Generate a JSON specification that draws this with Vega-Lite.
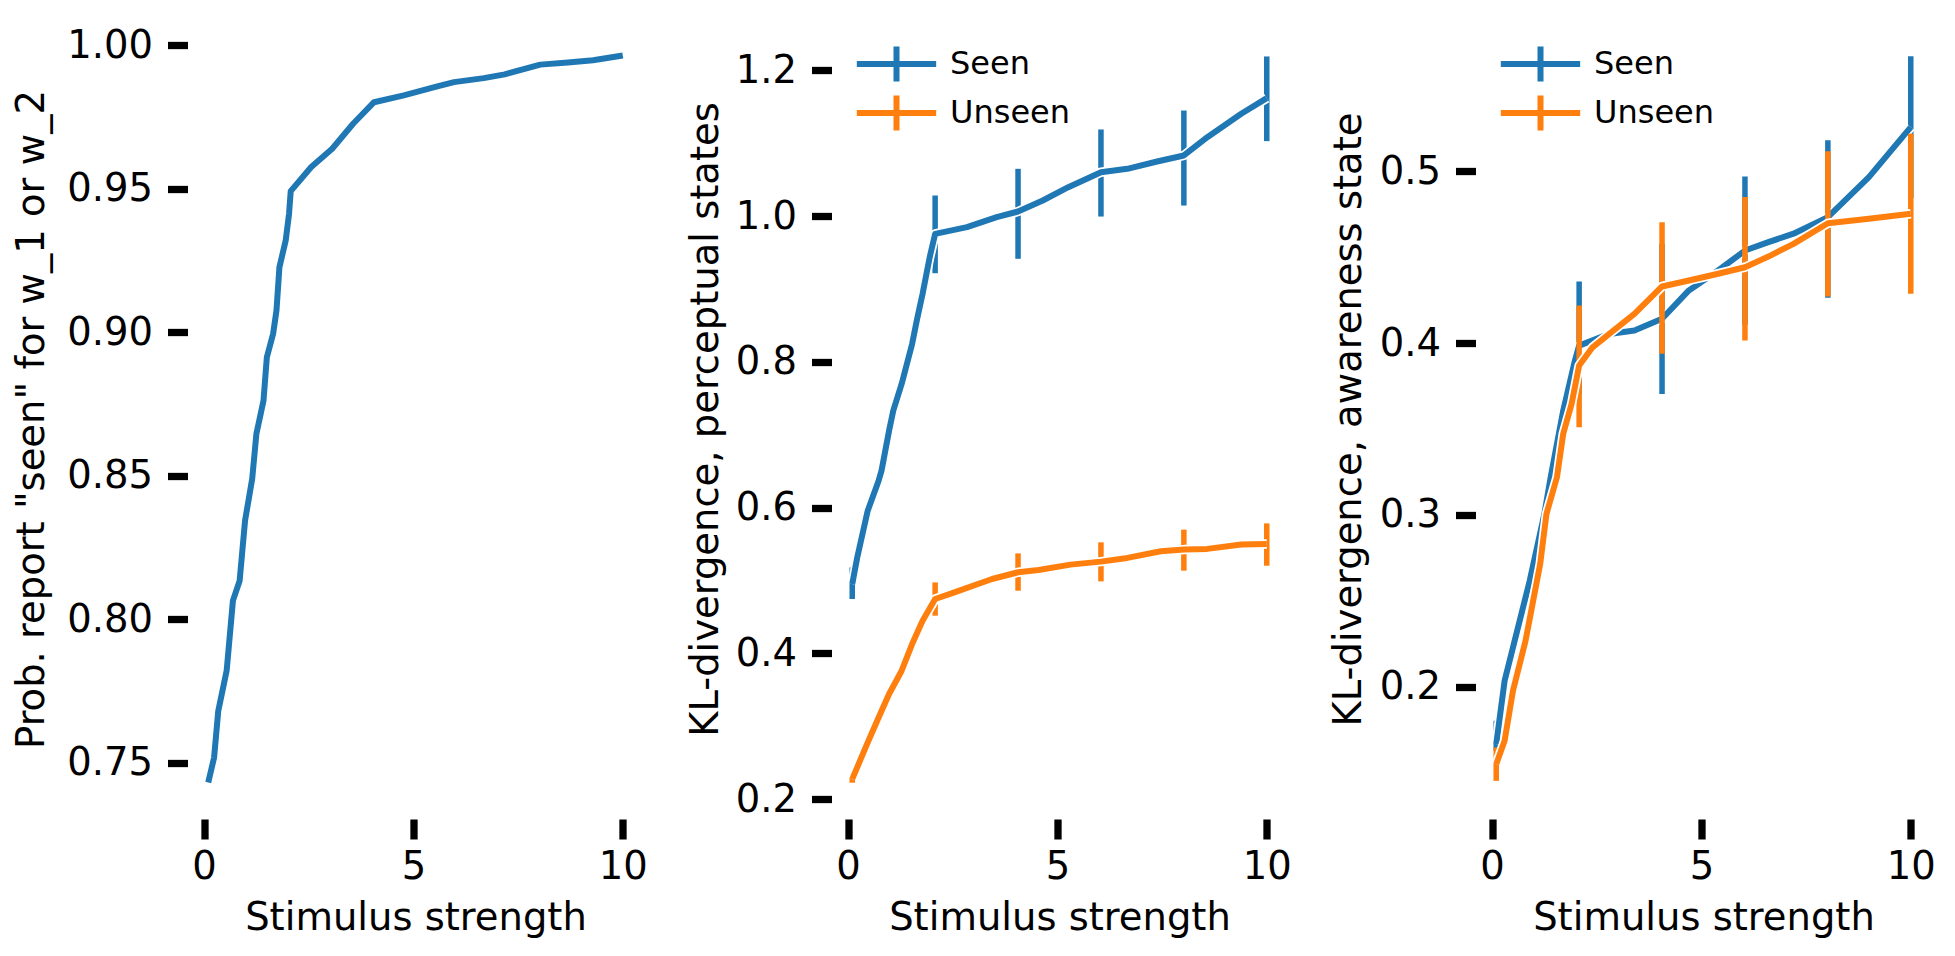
{
  "$schema": "https://vega.github.io/schema/vega-lite/v6.json",
  "background": "white",
  "padding": {"left": 12.5, "top": 19, "right": 10, "bottom": 10},
  "config": {
    "view": {"stroke": null},
    "font": "DejaVu Sans",
    "axis": {
      "domain": false,
      "grid": false,
      "tickColor": "black",
      "tickWidth": 7.3,
      "tickSize": 20,
      "labelFont": "DejaVu Sans",
      "labelFontSize": 38.5,
      "labelColor": "black",
      "labelFlush": false,
      "labelOverlap": false,
      "titleFont": "DejaVu Sans",
      "titleFontSize": 38.5,
      "titleFontWeight": "normal",
      "titleColor": "black"
    },
    "axisX": {"labelPadding": 9, "titlePadding": 14},
    "axisY": {"labelPadding": 15},
    "legend": {
      "orient": "none",
      "legendX": 46,
      "legendY": 26,
      "padding": 0,
      "symbolType": "M-2.48,0H2.48M0,-1.1V1.1",
      "symbolSize": 1024,
      "symbolStrokeWidth": 6,
      "symbolFillColor": "transparent",
      "labelFont": "DejaVu Sans",
      "labelFontSize": 32,
      "labelColor": "black",
      "labelOffset": 34.5,
      "rowPadding": -13
    }
  },
  "datasets": {
    "report": [
      {"x": 0.1, "y": 0.7431}, {"x": 0.24, "y": 0.7518}, {"x": 0.34, "y": 0.7681},
      {"x": 0.54, "y": 0.7821}, {"x": 0.69, "y": 0.8065}, {"x": 0.85, "y": 0.8134},
      {"x": 0.98, "y": 0.8344}, {"x": 1.15, "y": 0.849}, {"x": 1.25, "y": 0.8646},
      {"x": 1.42, "y": 0.8762}, {"x": 1.5, "y": 0.8913}, {"x": 1.65, "y": 0.8995},
      {"x": 1.73, "y": 0.9076}, {"x": 1.8, "y": 0.9227}, {"x": 1.95, "y": 0.932},
      {"x": 2.03, "y": 0.9413}, {"x": 2.07, "y": 0.9492}, {"x": 2.56, "y": 0.9576},
      {"x": 3.06, "y": 0.964}, {"x": 3.56, "y": 0.9727}, {"x": 4.06, "y": 0.9802},
      {"x": 4.77, "y": 0.9826}, {"x": 5.57, "y": 0.9857}, {"x": 5.97, "y": 0.9872},
      {"x": 6.68, "y": 0.9886}, {"x": 7.18, "y": 0.9899}, {"x": 8.03, "y": 0.9933},
      {"x": 8.69, "y": 0.994}, {"x": 9.29, "y": 0.9948}, {"x": 10.0, "y": 0.9965}
    ],
    "perceptual": [
      {"series": "Seen", "x": 0.1, "y": 0.495}, {"series": "Seen", "x": 0.22, "y": 0.5318},
      {"series": "Seen", "x": 0.47, "y": 0.5958}, {"series": "Seen", "x": 0.73, "y": 0.637},
      {"series": "Seen", "x": 0.8, "y": 0.6508}, {"series": "Seen", "x": 0.98, "y": 0.7057},
      {"series": "Seen", "x": 1.08, "y": 0.7332}, {"series": "Seen", "x": 1.28, "y": 0.7698},
      {"series": "Seen", "x": 1.53, "y": 0.8247}, {"series": "Seen", "x": 1.65, "y": 0.8591},
      {"series": "Seen", "x": 1.78, "y": 0.8934}, {"series": "Seen", "x": 1.95, "y": 0.9436},
      {"series": "Seen", "x": 2.08, "y": 0.9757}, {"series": "Seen", "x": 2.84, "y": 0.9849},
      {"series": "Seen", "x": 3.55, "y": 0.9986}, {"series": "Seen", "x": 4.06, "y": 1.0064},
      {"series": "Seen", "x": 4.65, "y": 1.0215}, {"series": "Seen", "x": 5.26, "y": 1.0398},
      {"series": "Seen", "x": 6.04, "y": 1.0604}, {"series": "Seen", "x": 6.67, "y": 1.065},
      {"series": "Seen", "x": 7.38, "y": 1.075}, {"series": "Seen", "x": 8.02, "y": 1.0833},
      {"series": "Seen", "x": 8.58, "y": 1.1084}, {"series": "Seen", "x": 9.39, "y": 1.1405},
      {"series": "Seen", "x": 10.0, "y": 1.162},
      {"series": "Unseen", "x": 0.1, "y": 0.2275}, {"series": "Unseen", "x": 0.42, "y": 0.2709},
      {"series": "Unseen", "x": 0.73, "y": 0.312}, {"series": "Unseen", "x": 0.98, "y": 0.3442},
      {"series": "Unseen", "x": 1.28, "y": 0.3762}, {"series": "Unseen", "x": 1.53, "y": 0.4128},
      {"series": "Unseen", "x": 1.78, "y": 0.4448}, {"series": "Unseen", "x": 2.08, "y": 0.4746},
      {"series": "Unseen", "x": 2.54, "y": 0.4837}, {"series": "Unseen", "x": 3.44, "y": 0.5021},
      {"series": "Unseen", "x": 4.06, "y": 0.5113}, {"series": "Unseen", "x": 4.55, "y": 0.5145},
      {"series": "Unseen", "x": 5.31, "y": 0.5218}, {"series": "Unseen", "x": 6.04, "y": 0.5259},
      {"series": "Unseen", "x": 6.67, "y": 0.531}, {"series": "Unseen", "x": 7.47, "y": 0.5401},
      {"series": "Unseen", "x": 8.02, "y": 0.5424}, {"series": "Unseen", "x": 8.58, "y": 0.5434},
      {"series": "Unseen", "x": 9.39, "y": 0.5493}, {"series": "Unseen", "x": 10.0, "y": 0.5502}
    ],
    "perceptualErr": [
      {"series": "Seen", "x": 0.1, "lo": 0.4746, "hi": 0.518},
      {"series": "Seen", "x": 2.08, "lo": 0.9217, "hi": 1.0284},
      {"series": "Seen", "x": 4.06, "lo": 0.9415, "hi": 1.065},
      {"series": "Seen", "x": 6.04, "lo": 0.9995, "hi": 1.119},
      {"series": "Seen", "x": 8.02, "lo": 1.0146, "hi": 1.145},
      {"series": "Seen", "x": 10.0, "lo": 1.103, "hi": 1.2192},
      {"series": "Unseen", "x": 0.1, "lo": 0.2225, "hi": 0.2325},
      {"series": "Unseen", "x": 2.08, "lo": 0.4517, "hi": 0.4974},
      {"series": "Unseen", "x": 4.06, "lo": 0.486, "hi": 0.5372},
      {"series": "Unseen", "x": 6.04, "lo": 0.4988, "hi": 0.5524},
      {"series": "Unseen", "x": 8.02, "lo": 0.5135, "hi": 0.5698},
      {"series": "Unseen", "x": 10.0, "lo": 0.5203, "hi": 0.5784}
    ],
    "awareness": [
      {"series": "Seen", "x": 0.1, "y": 0.1667}, {"series": "Seen", "x": 0.3, "y": 0.2035},
      {"series": "Seen", "x": 0.6, "y": 0.2326}, {"series": "Seen", "x": 0.9, "y": 0.2617},
      {"series": "Seen", "x": 1.25, "y": 0.3006}, {"series": "Seen", "x": 1.4, "y": 0.3219},
      {"series": "Seen", "x": 1.7, "y": 0.3607}, {"series": "Seen", "x": 1.98, "y": 0.3898},
      {"series": "Seen", "x": 2.08, "y": 0.3985}, {"series": "Seen", "x": 2.8, "y": 0.4053},
      {"series": "Seen", "x": 3.4, "y": 0.4073}, {"series": "Seen", "x": 4.06, "y": 0.4141},
      {"series": "Seen", "x": 4.7, "y": 0.4306}, {"series": "Seen", "x": 5.4, "y": 0.4422},
      {"series": "Seen", "x": 6.04, "y": 0.4538}, {"series": "Seen", "x": 6.6, "y": 0.4587},
      {"series": "Seen", "x": 7.2, "y": 0.4636}, {"series": "Seen", "x": 8.02, "y": 0.4732},
      {"series": "Seen", "x": 9.0, "y": 0.4965}, {"series": "Seen", "x": 10.0, "y": 0.5256},
      {"series": "Unseen", "x": 0.1, "y": 0.155}, {"series": "Unseen", "x": 0.3, "y": 0.1686},
      {"series": "Unseen", "x": 0.5, "y": 0.1977}, {"series": "Unseen", "x": 0.8, "y": 0.2268},
      {"series": "Unseen", "x": 1.15, "y": 0.2715}, {"series": "Unseen", "x": 1.3, "y": 0.3006},
      {"series": "Unseen", "x": 1.55, "y": 0.3219}, {"series": "Unseen", "x": 1.7, "y": 0.3472},
      {"series": "Unseen", "x": 1.9, "y": 0.3646}, {"series": "Unseen", "x": 2.08, "y": 0.3869},
      {"series": "Unseen", "x": 2.4, "y": 0.3975}, {"series": "Unseen", "x": 2.8, "y": 0.4053},
      {"series": "Unseen", "x": 3.4, "y": 0.417}, {"series": "Unseen", "x": 4.06, "y": 0.4329},
      {"series": "Unseen", "x": 4.7, "y": 0.4364}, {"series": "Unseen", "x": 5.4, "y": 0.4403},
      {"series": "Unseen", "x": 6.04, "y": 0.4441}, {"series": "Unseen", "x": 6.6, "y": 0.4503},
      {"series": "Unseen", "x": 7.2, "y": 0.4577}, {"series": "Unseen", "x": 8.02, "y": 0.4697},
      {"series": "Unseen", "x": 9.0, "y": 0.4723}, {"series": "Unseen", "x": 10.0, "y": 0.4752}
    ],
    "awarenessErr": [
      {"series": "Seen", "x": 0.1, "lo": 0.1628, "hi": 0.1803},
      {"series": "Seen", "x": 2.08, "lo": 0.3704, "hi": 0.4358},
      {"series": "Seen", "x": 4.06, "lo": 0.3704, "hi": 0.4578},
      {"series": "Seen", "x": 6.04, "lo": 0.4107, "hi": 0.4969},
      {"series": "Seen", "x": 8.02, "lo": 0.4263, "hi": 0.5179},
      {"series": "Seen", "x": 10.0, "lo": 0.4844, "hi": 0.5668},
      {"series": "Unseen", "x": 0.1, "lo": 0.1453, "hi": 0.1647},
      {"series": "Unseen", "x": 2.08, "lo": 0.351, "hi": 0.4218},
      {"series": "Unseen", "x": 4.06, "lo": 0.3937, "hi": 0.4703},
      {"series": "Unseen", "x": 6.04, "lo": 0.4015, "hi": 0.4849},
      {"series": "Unseen", "x": 8.02, "lo": 0.4271, "hi": 0.5116},
      {"series": "Unseen", "x": 10.0, "lo": 0.4286, "hi": 0.5218}
    ]
  },
  "bounds": "flush",
  "spacing": 188,
  "resolve": {
    "scale": {"color": "independent", "x": "independent", "y": "independent"},
    "legend": {"color": "independent"}
  },
  "hconcat": [
    {
      "width": 456,
      "height": 800,
      "data": {"name": "report"},
      "mark": {"type": "line", "color": "#1f77b4", "strokeWidth": 6, "strokeJoin": "round"},
      "encoding": {
        "x": {"field": "x", "type": "quantitative", "scale": {"domain": [-0.395, 10.495], "nice": false, "zero": false}, "axis": {"title": "Stimulus strength", "values": [0, 5, 10]}},
        "y": {"field": "y", "type": "quantitative", "scale": {"domain": [0.7304, 1.0092], "nice": false, "zero": false}, "axis": {"title": "Prob. report \"seen\" for w_1 or w_2", "values": [0.75, 0.8, 0.85, 0.9, 0.95, 1.0], "format": ".2f", "titlePadding": 15}}
      }
    },
    {
      "width": 456,
      "height": 800,
      "encoding": {
        "x": {"field": "x", "type": "quantitative", "scale": {"domain": [-0.395, 10.495], "nice": false, "zero": false}, "axis": {"title": "Stimulus strength", "values": [0, 5, 10]}}
      },
      "layer": [
        {
          "data": {"name": "perceptualErr"},
          "transform": [{"filter": "datum.series === 'Seen'"}],
          "mark": {"type": "rule", "strokeWidth": 5.5},
          "encoding": {
            "y": {"field": "lo", "type": "quantitative", "scale": {"domain": [0.1727, 1.2706], "nice": false, "zero": false}, "axis": {"title": "KL-divergence, perceptual states", "values": [0.2, 0.4, 0.6, 0.8, 1.0, 1.2], "format": ".1f", "titlePadding": 9.5}},
            "y2": {"field": "hi"},
            "color": {"field": "series", "type": "nominal", "scale": {"domain": ["Seen", "Unseen"], "range": ["#1f77b4", "#ff7f0e"]}, "legend": {"title": null}}
          }
        },
        {
          "data": {"name": "perceptual"},
          "transform": [{"filter": "datum.series === 'Seen'"}],
          "mark": {"type": "line", "color": "white", "strokeWidth": 9.5, "strokeJoin": "round"},
          "encoding": {
            "y": {"field": "y", "type": "quantitative", "title": "KL-divergence, perceptual states"}
          }
        },
        {
          "data": {"name": "perceptual"},
          "transform": [{"filter": "datum.series === 'Seen'"}],
          "mark": {"type": "line", "strokeWidth": 6, "strokeJoin": "round"},
          "encoding": {
            "y": {"field": "y", "type": "quantitative", "title": "KL-divergence, perceptual states"},
            "color": {"field": "series", "type": "nominal", "legend": {"title": null}}
          }
        },
        {
          "data": {"name": "perceptualErr"},
          "transform": [{"filter": "datum.series === 'Unseen'"}],
          "mark": {"type": "rule", "strokeWidth": 5.5},
          "encoding": {
            "y": {"field": "lo", "type": "quantitative", "title": "KL-divergence, perceptual states"},
            "y2": {"field": "hi"},
            "color": {"field": "series", "type": "nominal", "legend": {"title": null}}
          }
        },
        {
          "data": {"name": "perceptual"},
          "transform": [{"filter": "datum.series === 'Unseen'"}],
          "mark": {"type": "line", "color": "white", "strokeWidth": 9.5, "strokeJoin": "round"},
          "encoding": {
            "y": {"field": "y", "type": "quantitative", "title": "KL-divergence, perceptual states"}
          }
        },
        {
          "data": {"name": "perceptual"},
          "transform": [{"filter": "datum.series === 'Unseen'"}],
          "mark": {"type": "line", "strokeWidth": 6, "strokeJoin": "round"},
          "encoding": {
            "y": {"field": "y", "type": "quantitative", "title": "KL-divergence, perceptual states"},
            "color": {"field": "series", "type": "nominal", "legend": {"title": null}}
          }
        }
      ]
    },
    {
      "width": 456,
      "height": 800,
      "encoding": {
        "x": {"field": "x", "type": "quantitative", "scale": {"domain": [-0.395, 10.495], "nice": false, "zero": false}, "axis": {"title": "Stimulus strength", "values": [0, 5, 10]}}
      },
      "layer": [
        {
          "data": {"name": "awarenessErr"},
          "transform": [{"filter": "datum.series === 'Seen'"}],
          "mark": {"type": "rule", "strokeWidth": 5.5},
          "encoding": {
            "y": {"field": "lo", "type": "quantitative", "scale": {"domain": [0.1231, 0.5885], "nice": false, "zero": false}, "axis": {"title": "KL-divergence, awareness state", "values": [0.2, 0.3, 0.4, 0.5], "format": ".1f", "titlePadding": 10.5}},
            "y2": {"field": "hi"},
            "color": {"field": "series", "type": "nominal", "scale": {"domain": ["Seen", "Unseen"], "range": ["#1f77b4", "#ff7f0e"]}, "legend": {"title": null}}
          }
        },
        {
          "data": {"name": "awareness"},
          "transform": [{"filter": "datum.series === 'Seen'"}],
          "mark": {"type": "line", "color": "white", "strokeWidth": 9.5, "strokeJoin": "round"},
          "encoding": {
            "y": {"field": "y", "type": "quantitative", "title": "KL-divergence, awareness state"}
          }
        },
        {
          "data": {"name": "awareness"},
          "transform": [{"filter": "datum.series === 'Seen'"}],
          "mark": {"type": "line", "strokeWidth": 6, "strokeJoin": "round"},
          "encoding": {
            "y": {"field": "y", "type": "quantitative", "title": "KL-divergence, awareness state"},
            "color": {"field": "series", "type": "nominal", "legend": {"title": null}}
          }
        },
        {
          "data": {"name": "awarenessErr"},
          "transform": [{"filter": "datum.series === 'Unseen'"}],
          "mark": {"type": "rule", "strokeWidth": 5.5},
          "encoding": {
            "y": {"field": "lo", "type": "quantitative", "title": "KL-divergence, awareness state"},
            "y2": {"field": "hi"},
            "color": {"field": "series", "type": "nominal", "legend": {"title": null}}
          }
        },
        {
          "data": {"name": "awareness"},
          "transform": [{"filter": "datum.series === 'Unseen'"}],
          "mark": {"type": "line", "color": "white", "strokeWidth": 9.5, "strokeJoin": "round"},
          "encoding": {
            "y": {"field": "y", "type": "quantitative", "title": "KL-divergence, awareness state"}
          }
        },
        {
          "data": {"name": "awareness"},
          "transform": [{"filter": "datum.series === 'Unseen'"}],
          "mark": {"type": "line", "strokeWidth": 6, "strokeJoin": "round"},
          "encoding": {
            "y": {"field": "y", "type": "quantitative", "title": "KL-divergence, awareness state"},
            "color": {"field": "series", "type": "nominal", "legend": {"title": null}}
          }
        }
      ]
    }
  ]
}
